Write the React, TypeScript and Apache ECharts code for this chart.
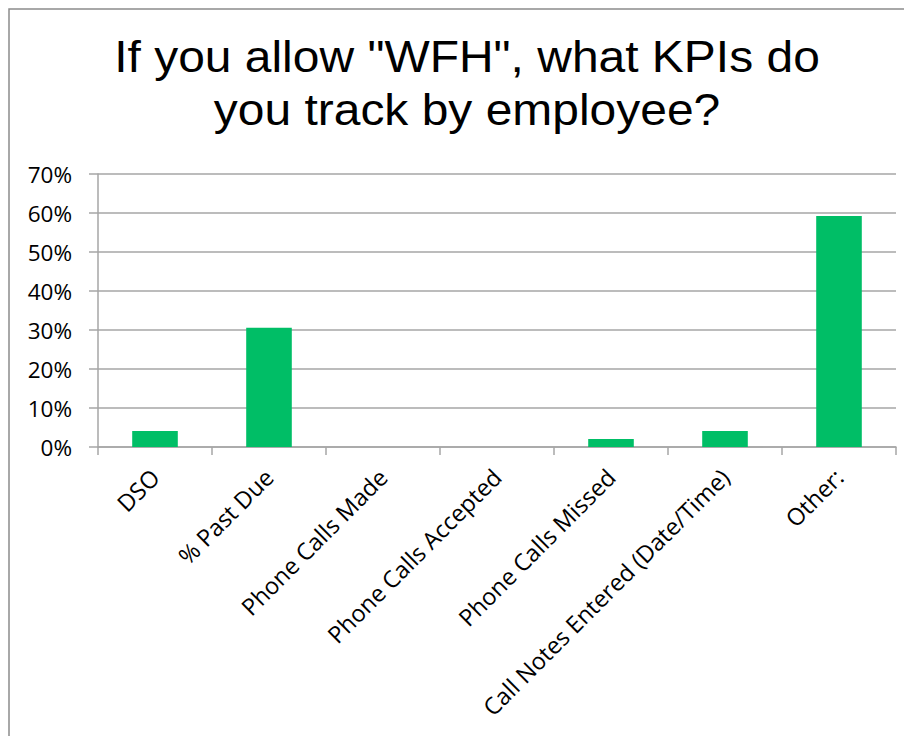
import React, { useEffect, useRef } from "react";
import * as echarts from "echarts";

const categories = [
  "DSO",
  "% Past Due",
  "Phone Calls Made",
  "Phone Calls Accepted",
  "Phone Calls Missed",
  "Call Notes Entered (Date/Time)",
  "Other:",
];
const values = [0.0408, 0.306, 0, 0, 0.0204, 0.0408, 0.592];
const yTicks = [0, 0.1, 0.2, 0.3, 0.4, 0.5, 0.6, 0.7];
const titleLines = ['If you allow "WFH", what KPIs do', "you track by employee?"];

export default function App() {
  const ref = useRef<HTMLDivElement>(null);
  useEffect(() => {
    if (!ref.current) return;
    const chart = echarts.init(ref.current, null, { renderer: "svg" });
    const titleFont = "44px 'Liberation Sans', Arial, sans-serif";
    chart.setOption({
      animation: false,
      backgroundColor: "#ffffff",
      graphic: [
        {
          type: "rect",
          shape: { x: 9, y: 9, width: 1000, height: 1000 },
          style: { fill: "none", stroke: "#8c8c8c", lineWidth: 1.5 },
          silent: true,
        },
        ...titleLines.map((t, i) => ({
          type: "text",
          x: 467,
          y: 57 + i * 53,
          scaleX: 1.09,
          silent: true,
          style: {
            text: t,
            font: titleFont,
            fill: "#000000",
            align: "center",
            verticalAlign: "middle",
          },
        })),
      ],
      grid: { left: 98, right: 8, top: 174, bottom: 289 },
      xAxis: {
        type: "category",
        data: categories,
        axisLine: { show: true, lineStyle: { color: "#a6a6a6", width: 1.5 } },
        axisTick: { show: true, length: 8, lineStyle: { color: "#a6a6a6", width: 1.5 } },
        axisLabel: {
          rotate: 45,
          margin: 26,
          interval: 0,
          fontFamily: "Open Sans, sans-serif",
          fontSize: 23.5,
          color: "#000000",
        },
      },
      yAxis: {
        type: "value",
        min: 0,
        max: 0.7,
        interval: 0.1,
        axisLine: { show: true, lineStyle: { color: "#a6a6a6", width: 1.5 } },
        axisTick: { show: true, length: 9, lineStyle: { color: "#a6a6a6", width: 1.5 } },
        splitLine: { show: true, lineStyle: { color: "#a6a6a6", width: 1.5 } },
        axisLabel: {
          margin: 26,
          fontFamily: "Open Sans, sans-serif",
          fontSize: 22.5,
          color: "#000000",
          formatter: (v: number) => {
            const t = yTicks.find((x) => Math.abs(x - v) < 1e-9);
            return Math.round((t ?? v) * 100) + "%";
          },
        },
      },
      series: [
        {
          type: "bar",
          data: values,
          barWidth: "40%",
          itemStyle: { color: "#00BE66" },
        },
      ],
    });
    return () => chart.dispose();
  }, []);
  return (
    <div
      ref={ref}
      style={{ position: "fixed", left: 0, top: 0, width: 904, height: 736 }}
    />
  );
}
